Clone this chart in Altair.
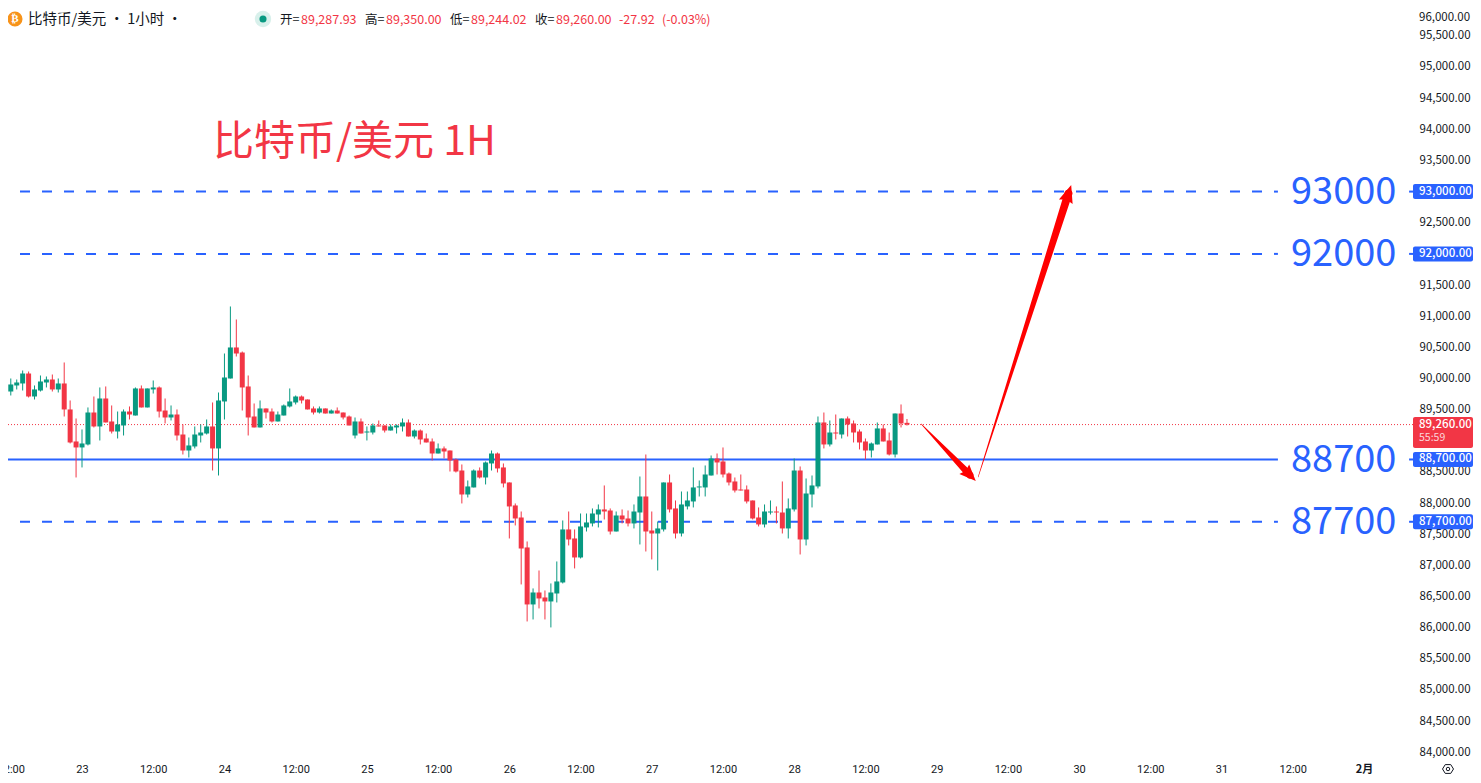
import altair as alt
import pandas as pd

opens = [90016,89856,89791,89888,89920,90080,89711,89807,89936,89984,89824,89920,89503,88989,88893,88941,89454,89230,89679,89310,
 89149,89246,89470,89406,89840,89535,89824,89856,89486,89374,89422,89101,88844,88909,89085,89117,89230,88877,89631,90000,
 90498,90417,89872,89390,89214,89519,89470,89310,89406,89551,89615,89711,89663,89519,89454,89519,89438,89486,89454,89390,
 89085,89310,89133,89133,89246,89246,89165,89214,89230,89294,89069,89165,89037,88989,88796,88877,88844,88700,88523,88138,
 88251,88523,88411,88636,88796,88572,88331,87962,87769,87288,86373,86565,86485,86421,86549,86726,87577,87432,87127,87609,
 87673,87817,87898,87881,87544,87801,87753,87673,87849,88106,87560,87512,87577,88331,87914,87512,87946,88026,88251,88251,
 88443,88716,88668,88475,88347,88218,88218,88042,87769,87657,87849,87865,87849,87593,87898,88523,87416,88138,88267,89294,
 88941,89133,89101,89358,89278,89149,88989,88844,88941,89198,89005,88780,89438,89288]
highs = [90064,90080,90000,89984,90128,90112,89888,90048,90032,90064,90000,90257,89647,89358,89182,89535,89711,89856,89872,89567,
 89470,89503,89551,89856,89888,89840,89968,89872,89679,89567,89503,89262,89053,89230,89262,89342,89615,89775,90401,91156,
 90947,90433,90048,89599,89647,89519,89519,89470,89583,89840,89727,89727,89663,89551,89551,89519,89503,89535,89454,89406,
 89374,89358,89230,89278,89326,89246,89262,89262,89358,89342,89182,89182,89117,89037,88957,88909,88844,88716,88620,88363,
 88540,88572,88668,88844,88812,88636,88331,87994,87865,87384,86630,86918,86597,86710,87063,87721,87865,87577,87833,87833,
 87914,87978,88283,87914,87865,87898,87881,87978,88427,88780,87865,87705,88331,88459,88042,88186,88186,88572,88363,88604,
 88764,88796,88893,88491,88411,88459,88283,88042,87930,87978,88042,87946,88347,88074,88716,88588,88395,88443,89390,89454,
 89326,89422,89358,89390,89326,89182,89037,88973,89294,89262,89133,89438,89583,89350]
lows = [89824,89599,89727,89824,89807,89695,89663,89791,89856,89791,89775,89390,88957,88411,88572,88925,89214,89005,89294,89117,
 89037,89085,89342,89406,89535,89535,89759,89374,89278,89326,89005,88780,88732,88877,88973,89101,88523,88443,89342,90000,
 90353,89486,89085,89214,89214,89358,89294,89310,89406,89535,89583,89599,89503,89422,89438,89438,89438,89438,89342,89246,
 89037,89117,89005,89101,89230,89133,89165,89117,89149,89069,89037,88941,88973,88684,88796,88716,88507,88491,87994,88090,
 88251,88395,88299,88523,88491,88251,87432,87641,86694,86100,86132,86309,86132,86004,86405,86710,87320,86951,87111,87544,
 87625,87609,87737,87496,87544,87673,87625,87593,87336,87223,87095,86918,87544,87849,87432,87464,87898,87930,88106,88106,
 88443,88459,88411,88283,88170,88202,87994,87737,87625,87609,87817,87673,87512,87432,87865,87175,87320,87930,88235,88877,
 88909,89021,89037,89069,88973,88861,88700,88732,88941,88989,88764,88732,89214,89244]
closes = [89840,89791,89904,89936,90080,89711,89824,89952,89984,89824,89920,89503,88973,88893,88957,89454,89230,89679,89294,89149,
 89262,89470,89422,89840,89535,89840,89856,89470,89374,89422,89085,88844,88925,89101,89133,89230,88877,89647,90016,90498,
 90401,89856,89374,89214,89519,89454,89310,89422,89567,89631,89711,89647,89503,89454,89519,89438,89486,89438,89374,89246,
 89310,89117,89149,89246,89230,89165,89230,89246,89294,89069,89165,89021,88973,88796,88877,88828,88684,88507,88138,88267,
 88523,88411,88652,88796,88556,88315,87946,87753,87272,86373,86565,86469,86421,86565,86742,87577,87416,87127,87625,87689,
 87833,87898,87865,87544,87801,87737,87673,87865,88106,87544,87512,87593,88331,87898,87512,87978,88042,88251,88267,88459,
 88716,88652,88459,88331,88202,88202,88026,87753,87657,87865,87865,87849,87593,87914,88523,87416,88154,88283,89294,88941,
 89133,89117,89358,89262,89133,88973,88844,88957,89198,88989,88780,89438,89278,89260]
hours = list(range(-14, -14 + len(opens)))

level_prices = [93000, 92000, 88700, 87700]
level_names = ["93000", "92000", "88700", "87700"]
level_tags = ["93,000.00", "92,000.00", "88,700.00", "87,700.00"]
level_dash = [True, True, False, True]
last_price = 89260
y_ticks = [v for v in (84000 + 500 * i for i in range(24)) if v != 89000]
x_ticks = [-12 + 12 * i for i in range(20)]
day_names = ["23","24","25","26","27","28","29","30","31","2月"]

arrow_seg = ["a","a","b","b"]
arrow_order = [0,1,0,1]
arrow_hour = [141.4,149.6,151.0,166.2]
arrow_price = [89270,88451,88420,92968]
arrow_width = [0.5,7,0.5,8]
head_hour = [149.6,166.2]
head_price = [88451,92968]
head_angle = [136,18]
head_size = [289,324]

RED="#F23645"; GREEN="#089981"; BLUE="#2962FF"; INK="#131722"; FONT="Noto Sans CJK SC"
W=1405; H=754
XD=[-12.47,224.26]; YD=[83844,95947]

df = pd.DataFrame({"h":hours,"o":opens,"hi":highs,"lo":lows,"c":closes})
color = alt.condition("datum.c >= datum.o", alt.value(GREEN), alt.value(RED))
xs = alt.Scale(domain=XD, nice=False, zero=False, padding=0)
ys = alt.Scale(domain=YD, nice=False, zero=False, padding=0)
X = alt.X("h:Q", scale=xs, title=None, axis=alt.Axis(values=x_ticks, grid=False, domain=False, ticks=False,
      labelExpr="abs(datum.value%24)==12 ? '12:00' : "+str(day_names)+"[datum.value/24]",
      labelFontWeight=alt.expr("datum.value==216 ? 'bold' : 'normal'"),
      labelFont=alt.expr("datum.value==216 ? 'Noto Sans CJK SC' : 'Roboto'"),
      labelOverlap=False, labelFlush=False, labelBaseline="middle", labelPadding=7, labelFontSize=11, labelColor=INK))
Y = alt.Y("lo:Q", scale=ys, title=None, axis=alt.Axis(values=y_ticks, orient="right", grid=False, domain=False, ticks=False,
      format=",.2f", labelAlign="left", labelPadding=6, labelFont=FONT, labelFontSize=11.5, labelColor=INK, labelOverlap=False))
xn = lambda f: alt.X(f, scale=xs, axis=None, title=None)
yn = lambda f: alt.Y(f, scale=ys, axis=None, title=None)

def txt(s, px, py, color=INK, size=11, weight="normal", align="left", font=FONT):
    return alt.Chart(pd.DataFrame({"t":[s]})).mark_text(color=color, fontSize=size, fontWeight=weight, align=align,
        baseline="middle", font=font).encode(text="t:N", x=alt.value(px-8), y=alt.value(py-8))

layers = []
# level lines
lv = pd.DataFrame({"p":level_prices,"name":level_names,"tag":level_tags,"dash":level_dash,"x0":[XD[0]]*4,"x1":[201.5]*4,"t0":[223.6]*4,"t1":[XD[1]]*4})
layers.append(alt.Chart(lv[lv.dash]).mark_rule(color=BLUE, strokeWidth=2, strokeDash=[10,12], strokeDashOffset=10)
              .encode(x=xn("x0:Q"), x2="x1:Q", y=yn("p:Q")))
layers.append(alt.Chart(lv[~lv.dash]).mark_rule(color=BLUE, strokeWidth=2).encode(x=xn("x0:Q"), x2="x1:Q", y=yn("p:Q")))
layers.append(alt.Chart(lv).mark_rule(color=BLUE, strokeWidth=2).encode(x=xn("t0:Q"), x2="t1:Q", y=yn("p:Q")))
# last price dotted
lp = pd.DataFrame({"p":[last_price],"x0":[XD[0]],"x1":[XD[1]]})
layers.append(alt.Chart(lp).mark_rule(color=RED, strokeWidth=1, strokeDash=[1,2]).encode(x=xn("x0:Q"), x2="x1:Q", y=yn("p:Q")))
# candles
layers.append(alt.Chart(df).mark_rule(strokeWidth=1).encode(x=X, y=Y, y2="hi:Q", color=color))
layers.append(alt.Chart(df).mark_bar(size=5).encode(x=xn("h:Q"), y=yn("o:Q"), y2="c:Q", color=color))
# arrows
ar = pd.DataFrame({"seg":arrow_seg,"i":arrow_order,"h":arrow_hour,"p":arrow_price,"w":arrow_width})
layers.append(alt.Chart(ar).mark_trail(color="#FF0000").encode(x=xn("h:Q"), y=yn("p:Q"),
     size=alt.Size("w:Q", scale=None, legend=None), order="i:Q", detail="seg:N"))
hd = pd.DataFrame({"h":head_hour,"p":head_price,"a":head_angle,"s":head_size})
layers.append(alt.Chart(hd).mark_point(shape="M0,-1 L0.8,0.95 L0,0.7 L-0.8,0.95 Z", filled=True, color="#FF0000", opacity=1).encode(
     x=xn("h:Q"), y=yn("p:Q"), angle=alt.Angle("a:Q", scale=None), size=alt.Size("s:Q", scale=None, legend=None)))
# big level labels
layers.append(alt.Chart(lv).mark_text(color=BLUE, fontSize=38, align="left", baseline="middle", font=FONT, dy=1.5)
     .encode(text="name:N", x=alt.value(1283), y=yn("p:Q")))
# price tags
layers.append(alt.Chart(lv).mark_rect(color=BLUE, height=15, cornerRadius=2).encode(x=alt.value(1405), x2=alt.value(1465), y=yn("p:Q")))
layers.append(alt.Chart(lv).mark_text(color="#ffffff", fontSize=11.5, align="left", baseline="middle", font=FONT, fontWeight=500)
     .encode(text="tag:N", x=alt.value(1411), y=yn("p:Q")))
rb = pd.DataFrame({"a":[1]})
layers.append(alt.Chart(rb).mark_rect(color=RED, cornerRadius=2).encode(x=alt.value(1405), x2=alt.value(1465), y=alt.value(409), y2=alt.value(440)))
layers.append(txt("89,260.00",1419,424.5,"#ffffff",11.5,500))
layers.append(txt("55:59",1419,438,"#FBD7DB",10.5))
layers.append(txt("96,000.00",1419,18,INK,11.5))
# header
layers.append(alt.Chart(rb).mark_point(filled=True, color="#F7931A", size=227, opacity=1).encode(x=alt.value(7), y=alt.value(11)))
layers.append(txt("₿",15,19,"#ffffff",11,"bold","center","DejaVu Sans"))
layers.append(txt("比特币/美元 · 1小时 ·",28,20,INK,14.5))
layers.append(alt.Chart(rb).mark_point(filled=True, color="#D8F0EB", size=270, opacity=1).encode(x=alt.value(255), y=alt.value(11)))
layers.append(alt.Chart(rb).mark_point(filled=True, color=GREEN, size=50, opacity=1).encode(x=alt.value(255), y=alt.value(11)))
for lab,val,px in [("开=","89,287.93",280),("高=","89,350.00",365),("低=","89,244.02",450),("收=","89,260.00",535)]:
    layers.append(txt(lab,px,20,INK,12.5))
    layers.append(txt(val,px+21,20,RED,12.5))
layers.append(txt("-27.92",619,20,RED,12.5))
layers.append(txt("(-0.03%)",662,20,RED,12.5))
# annotation title
layers.append(txt("比特币/美元 1H",213,143,RED,41))
# settings icon
hexagon = "M-1,0 L-0.5,-0.8 L0.5,-0.8 L1,0 L0.5,0.8 L-0.5,0.8 Z"
layers.append(alt.Chart(rb).mark_point(shape=hexagon, filled=False, color=INK, size=121, strokeWidth=1, opacity=1).encode(x=alt.value(1440), y=alt.value(761)))
layers.append(alt.Chart(rb).mark_point(filled=False, color=INK, size=12, strokeWidth=1, opacity=1).encode(x=alt.value(1440), y=alt.value(761)))

chart = alt.layer(*layers).properties(width=W, height=H, background="#ffffff",
      autosize=alt.AutoSizeParams(type="none"), padding={"left":0,"top":0,"right":60,"bottom":13}
    ).resolve_scale(color="independent").resolve_axis(x="independent", y="independent").configure_view(stroke=None)
chart.save("out.html", embed_options={"renderer":"svg","actions":False})
